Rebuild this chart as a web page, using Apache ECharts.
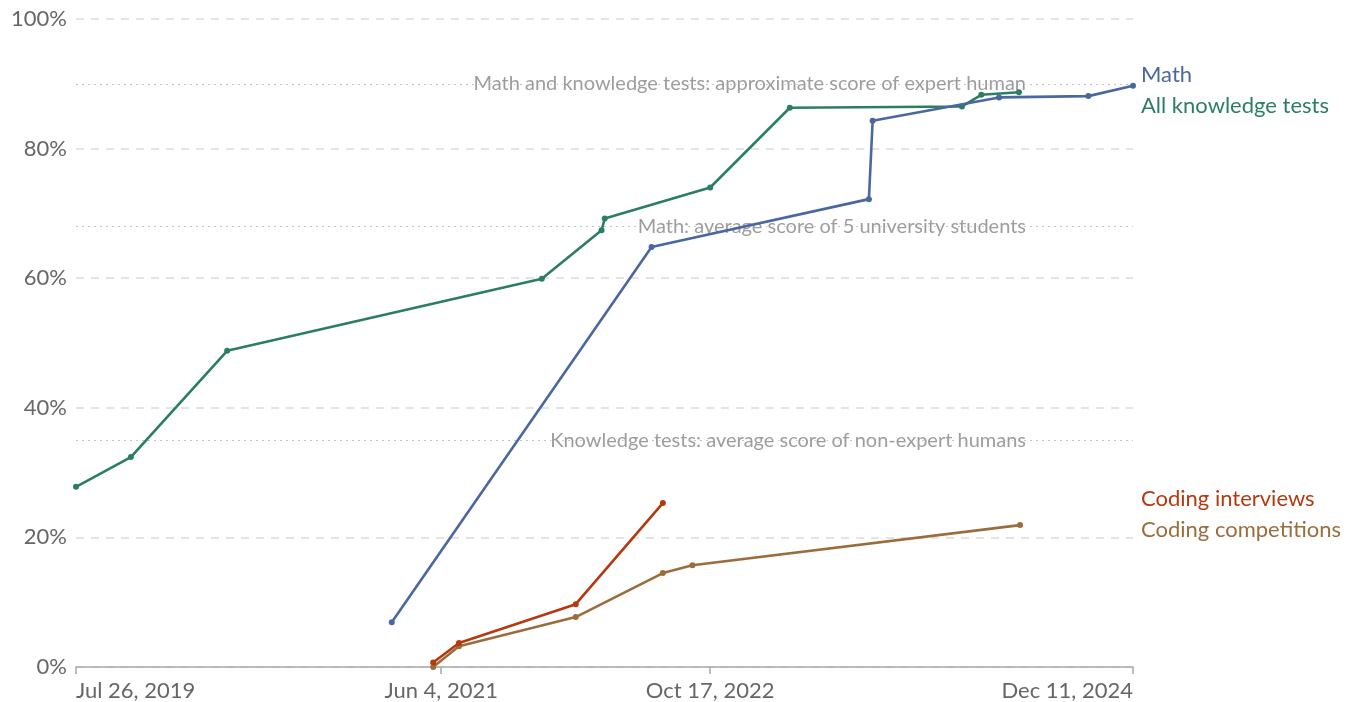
<!DOCTYPE html>
<html>
<head>
<meta charset="utf-8">
<style>
  html, body { margin: 0; padding: 0; background: #fff; }
  #chart { width: 1345px; height: 702px; }
</style>
<script src="https://cdn.jsdelivr.net/npm/echarts@6/dist/echarts.min.js"></script>
</head>
<body>
<div id="chart"></div>
<script>
  // series data: dates and scores (%)
  var knowledgeDates = ['2019-07-26', '2019-11-05', '2020-05-02', '2021-12-08', '2022-03-29', '2022-04-04', '2022-10-17', '2023-03-14', '2024-01-28', '2024-03-04', '2024-05-13']
  var knowledgeValues = [27.8, 32.4, 48.8, 59.9, 67.4, 69.2, 74.0, 86.3, 86.5, 88.3, 88.7]

  var mathDates = ['2021-03-04', '2022-06-30', '2023-08-08', '2023-08-15', '2024-04-06', '2024-09-19', '2024-12-11']
  var mathValues = [6.9, 64.8, 72.2, 84.3, 87.9, 88.1, 89.7]

  var interviewDates = ['2021-05-20', '2021-07-07', '2022-02-09', '2022-07-21']
  var interviewValues = [0.7, 3.7, 9.7, 25.3]

  var competitionDates = ['2021-05-20', '2021-07-07', '2022-02-09', '2022-07-21', '2022-09-14', '2024-05-15']
  var competitionValues = [0, 3.2, 7.7, 14.5, 15.7, 21.9]

  // human reference levels
  var refValues = [90, 68, 35]
  var refLabels = [
    'Math and knowledge tests: approximate score of expert human',
    'Math: average score of 5 university students',
    'Knowledge tests: average score of non-expert humans'
  ]

  // axis ticks
  var xTickDates = ['2019-07-26', '2021-06-04', '2022-10-17', '2024-12-11']

  var months = ['Jan', 'Feb', 'Mar', 'Apr', 'May', 'Jun', 'Jul', 'Aug', 'Sep', 'Oct', 'Nov', 'Dec']
  function ts(s) {
    var p = s.split('-')
    return Date.UTC(+p[0], +p[1] - 1, +p[2])
  }
  function fmtDate(v) {
    var d = new Date(v)
    return months[d.getUTCMonth()] + ' ' + d.getUTCDate() + ', ' + d.getUTCFullYear()
  }
  function pairs(dates, values) {
    return dates.map(function (d, i) { return [ts(d), values[i]] })
  }

  var FONT = 'Lato, "Noto Sans", sans-serif'
  var colors = {
    math: '#4b67a0',
    knowledge: '#2b7f60',
    interview: '#b5390f',
    competition: '#9c6d3c'
  }

  function lineSeries(name, data, color, z) {
    return {
      name: name,
      type: 'line',
      data: data,
      zlevel: 1,
      z: z,
      symbol: 'circle',
      symbolSize: 6,
      lineStyle: { color: color, width: 2.6 },
      itemStyle: { color: color },
      animation: false
    }
  }

  // dotted reference lines, drawn under the data lines
  var refSeries = {
    type: 'line',
    data: [],
    zlevel: 0,
    z: 1,
    silent: true,
    markLine: {
      symbol: 'none',
      silent: true,
      animation: false,
      lineStyle: { type: [2, 4], color: '#c4c4c4', width: 1.2 },
      label: {
        show: true,
        position: 'insideEnd',
        distance: 107,
        color: '#9d9d9d',
        fontFamily: FONT,
        fontSize: 20,
        textBorderColor: '#fff',
        textBorderWidth: 2,
        formatter: function (p) { return refLabels[p.dataIndex] }
      },
      data: refValues.map(function (v) { return { yAxis: v } })
    }
  }

  var chart = echarts.init(document.getElementById('chart'))
  chart.setOption({
    backgroundColor: '#fff',
    textStyle: { fontFamily: FONT },
    grid: { left: 76, right: 212, top: 19, bottom: 35 },
    xAxis: {
      type: 'value',
      min: ts(xTickDates[0]),
      max: ts(xTickDates[xTickDates.length - 1]),
      axisLine: { lineStyle: { color: '#a8a8a8', width: 1.5 } },
      axisTick: {
        show: true,
        length: 7,
        lineStyle: { color: '#a8a8a8', width: 1.5 },
        customValues: xTickDates.map(ts)
      },
      axisLabel: {
        color: '#666',
        fontSize: 22,
        fontFamily: FONT,
        margin: 13,
        alignMinLabel: 'left',
        alignMaxLabel: 'right',
        customValues: xTickDates.map(ts),
        formatter: function (v) { return fmtDate(v) }
      },
      splitLine: { show: false }
    },
    yAxis: {
      type: 'value',
      min: 0,
      max: 100,
      interval: 20,
      axisLine: { show: false },
      axisTick: { show: false },
      axisLabel: {
        color: '#666',
        fontSize: 22,
        fontFamily: FONT,
        margin: 9,
        formatter: '{value}%'
      },
      splitLine: {
        show: true,
        lineStyle: { type: [8, 7], color: '#dcdcdc', width: 1.5 }
      }
    },
    graphic: [
      { type: 'text', left: 1141, top: 64, style: { text: 'Math', fill: colors.math, font: '22px ' + FONT } },
      { type: 'text', left: 1141, top: 95, style: { text: 'All knowledge tests', fill: colors.knowledge, font: '22px ' + FONT } },
      { type: 'text', left: 1141, top: 488, style: { text: 'Coding interviews', fill: colors.interview, font: '22px ' + FONT } },
      { type: 'text', left: 1141, top: 519, style: { text: 'Coding competitions', fill: colors.competition, font: '22px ' + FONT } }
    ],
    series: [
      refSeries,
      lineSeries('All knowledge tests', pairs(knowledgeDates, knowledgeValues), colors.knowledge, 3),
      lineSeries('Math', pairs(mathDates, mathValues), colors.math, 4),
      lineSeries('Coding competitions', pairs(competitionDates, competitionValues), colors.competition, 3),
      lineSeries('Coding interviews', pairs(interviewDates, interviewValues), colors.interview, 4)
    ]
  })
</script>
</body>
</html>
